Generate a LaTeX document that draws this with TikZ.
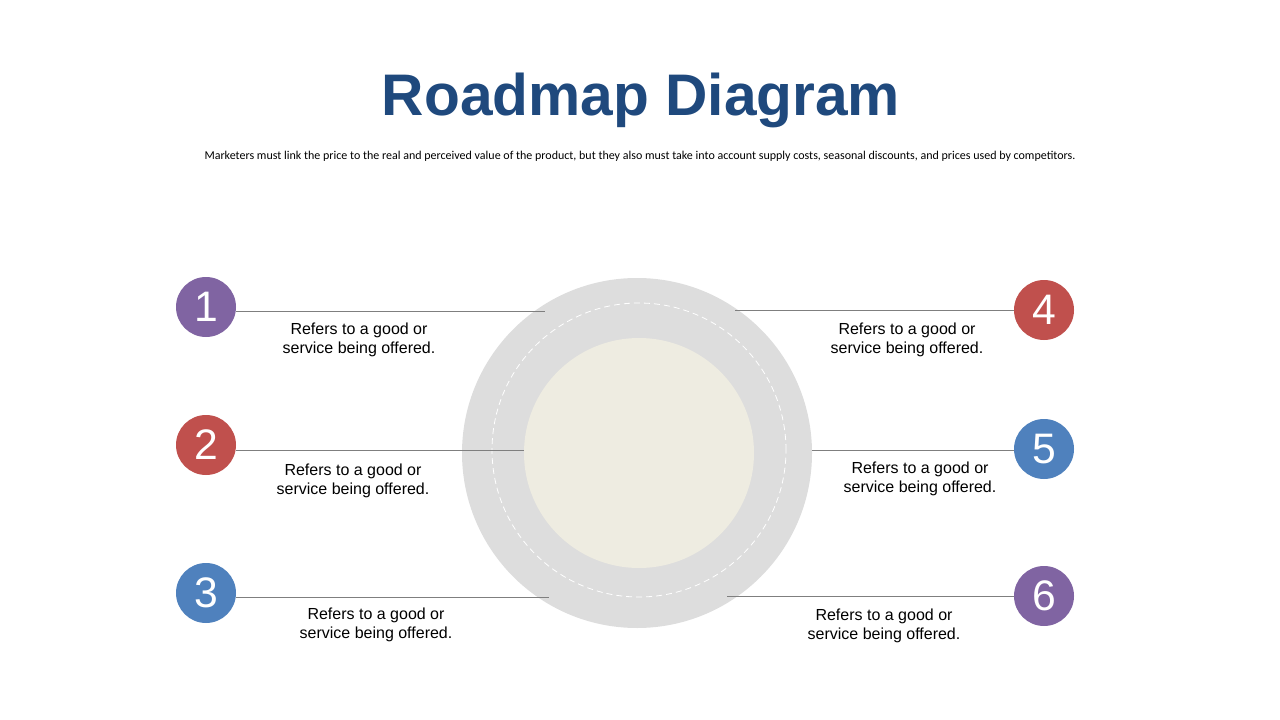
\documentclass[tikz,border=0pt]{standalone}
\usepackage{fontspec}
\setmainfont{Liberation Sans}
\newfontfamily\notefont{Carlito}
\usepackage{tikz}
\usetikzlibrary{positioning}
\usepackage{xcolor}
\definecolor{titleblue}{HTML}{1F497D}
\definecolor{stepviolet}{HTML}{8064A2}
\definecolor{stepred}{HTML}{C0504D}
\definecolor{stepblue}{HTML}{4F81BD}
\definecolor{ringgray}{HTML}{DDDDDD}
\definecolor{coretan}{HTML}{EEECE1}
\definecolor{linkgray}{HTML}{7F7F7F}

\begin{document}
\begin{tikzpicture}[x=0.75pt, y=-0.75pt,
  num/.style={circle, minimum size=45pt, inner sep=0pt, text=white, font=\fontsize{32}{32}\selectfont},
  desc/.style={align=center, font=\fontsize{12}{14.25}\selectfont},
  link/.style={draw=linkgray, line width=0.75pt}]

 % Frame
 \useasboundingbox (0,0) rectangle (1280,720);

 % Title
 \node[anchor=base, text=titleblue, font=\fontsize{44}{44}\selectfont\bfseries] (title) at (641,116) {Roadmap Diagram};
 \node[anchor=base, font=\notefont\fontsize{9}{9}\selectfont] (note) at (640,160) {Marketers must link the price to the real and perceived value of the product, but they also must take into account supply costs, seasonal discounts, and prices used by competitors.};

 % Road
 \node[circle, fill=ringgray, minimum size=262.5pt, inner sep=0pt] (ring) at (637,453) {};
 \node[circle, draw=white, dash pattern=on 4.5pt off 3pt, line width=0.6pt, minimum size=220.5pt, inner sep=0pt] (lane) at (639,450) {};
 \node[circle, fill=coretan, minimum size=172.5pt, inner sep=0pt] (core) at (639,453) {};

 % Steps
 \node[num, fill=stepviolet] (n1) at (206,307) {1};
 \node[num, fill=stepred] (n2) at (206,445) {2};
 \node[num, fill=stepblue] (n3) at (206,593) {3};
 \node[num, fill=stepred] (n4) at (1044,310) {4};
 \node[num, fill=stepblue] (n5) at (1044,449) {5};
 \node[num, fill=stepviolet] (n6) at (1044,596) {6};

 % Line ends on the road
 \coordinate (e1) at (545,311);
 \coordinate (e2) at (524,450);
 \coordinate (e3) at (549,597);
 \coordinate (e4) at (735,310);
 \coordinate (e5) at (812,450);
 \coordinate (e6) at (727,596);

 % Lines
 \draw[link] (n1.east |- e1) -- (e1);
 \draw[link] (n2.east |- e2) -- (e2);
 \draw[link] (n3.east |- e3) -- (e3);
 \draw[link] (n4.west |- e4) -- (e4);
 \draw[link] (n5.west |- e5) -- (e5);
 \draw[link] (n6.west |- e6) -- (e6);

 % Texts
 \node[desc] (t1) at (359,340) {Refers to a good or\\service being offered.};
 \node[desc] (t2) at (353,481) {Refers to a good or\\service being offered.};
 \node[desc] (t3) at (376,625) {Refers to a good or\\service being offered.};
 \node[desc] (t4) at (907,340) {Refers to a good or\\service being offered.};
 \node[desc] (t5) at (920,479) {Refers to a good or\\service being offered.};
 \node[desc] (t6) at (884,626) {Refers to a good or\\service being offered.};

\end{tikzpicture}
\end{document}
